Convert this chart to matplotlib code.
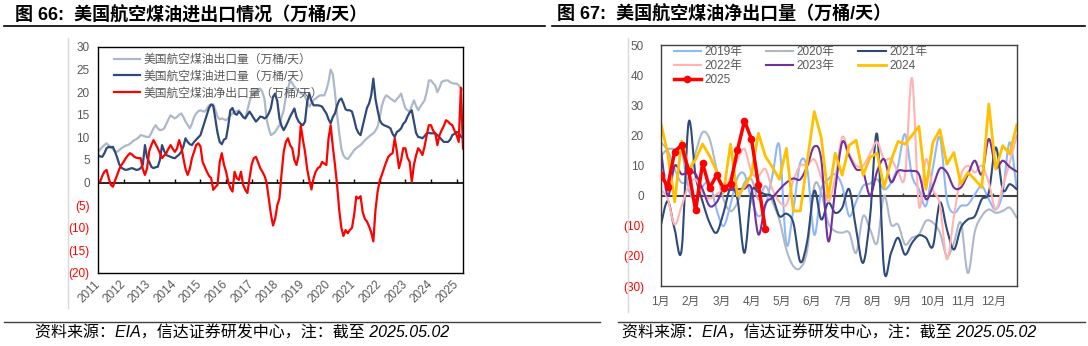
import numpy as np
import matplotlib.pyplot as plt
from matplotlib.path import Path
from matplotlib.patches import PathPatch
from matplotlib.lines import Line2D

plt.rcParams['font.family'] = ['Liberation Sans', 'Noto Sans CJK SC', 'DejaVu Sans']

# ---- left chart: monthly, Jan 2011 .. Apr 2025 (万桶/天)
year_labels = list(range(2011, 2026))

export_kbd = [
    6.8, 7.3, 7.9, 8.3, 8.7, 8.2, 7.9, 7.4, 6.9, 6.8, 7.2, 7.6,
    7.9, 8.2, 8.3, 8.6, 9.0, 9.4, 9.6, 10.0, 10.5, 10.4, 10.2, 10.1,
    10.1, 11.0, 12.0, 12.7, 12.0, 11.6, 11.7, 12.0, 13.0, 14.0, 14.9, 14.5,
    14.2, 14.5, 15.0, 15.3, 14.5, 13.5, 12.8, 12.0, 13.0, 14.5, 15.3, 15.8,
    16.0, 15.8, 15.7, 16.3, 17.1, 17.2, 17.3, 16.0, 14.6, 14.0, 14.2, 14.0,
    13.8, 14.2, 14.8, 15.3, 15.6, 15.8, 16.0, 15.2, 14.5, 14.2, 16.0, 18.0,
    19.3, 19.6, 20.0, 20.5, 20.8, 20.0, 18.5, 14.0, 12.0, 10.5, 10.8, 11.2,
    12.0, 12.7, 14.5, 16.0, 19.0, 20.8, 22.6, 22.0, 21.2, 20.7, 20.2, 19.8,
    19.5, 19.0, 18.0, 16.8, 17.5, 18.3, 18.6, 19.0, 19.3, 19.3, 19.3, 20.5,
    22.3, 25.0, 24.0, 20.0, 15.0, 11.0, 7.5, 6.0, 5.4, 5.2, 5.8, 6.5,
    7.2, 7.6, 8.0, 8.3, 8.8, 9.3, 9.8, 10.2, 10.6, 10.9, 11.5, 12.4,
    14.5, 17.0, 18.5, 19.3, 19.0, 18.6, 18.3, 17.9, 18.5, 19.0, 19.7, 18.0,
    16.4, 16.0, 15.7, 17.0, 18.2, 17.0, 16.0, 16.8, 17.5, 18.2, 20.0, 22.6,
    22.6, 22.0, 21.5, 20.0, 21.0, 22.3, 22.5, 22.6, 22.6, 22.2, 22.0, 21.9,
    21.9, 21.5, 20.8, 20.5,
]
import_kbd = [
    6.1, 5.8, 5.7, 6.5, 7.6, 7.9, 7.8, 7.9, 6.8, 5.5, 4.0, 3.3,
    3.0, 2.8, 2.9, 3.1, 3.2, 3.0, 2.8, 2.9, 3.2, 4.0, 8.3, 5.5,
    4.6, 3.5, 3.2, 3.4, 3.5, 5.0, 8.3, 7.0, 6.1, 5.9, 5.7, 5.5,
    5.4, 5.8, 6.2, 6.8, 8.0, 9.8, 9.0, 8.5, 8.3, 9.0, 9.5, 10.0,
    10.5, 12.0, 13.5, 15.0, 16.5, 17.3, 17.0, 14.0, 11.0, 9.0, 8.5, 9.5,
    9.8, 12.5, 16.0, 16.5, 15.3, 15.0, 15.7, 15.2, 14.5, 14.2, 15.0, 15.7,
    15.0, 14.2, 13.5, 14.0, 14.6, 14.5, 14.2, 14.5, 15.3, 16.5, 19.0, 19.7,
    18.0, 14.2, 12.5, 11.6, 12.5, 13.5, 14.6, 15.5, 16.4, 14.5, 13.5, 13.0,
    12.7, 13.5, 17.9, 19.7, 18.0, 17.1, 17.1, 17.1, 17.0, 16.8, 16.0, 15.3,
    14.0, 13.1, 14.5, 15.3, 17.0, 18.2, 18.6, 17.5, 16.2, 16.0, 16.0, 15.7,
    14.0, 12.0, 11.0, 10.5, 12.5, 14.5, 16.5, 17.5, 19.3, 23.0, 18.5, 16.0,
    13.8, 13.0, 12.7, 12.5, 12.3, 12.0, 10.8, 10.1, 11.2, 11.5, 12.0, 13.0,
    13.5, 14.6, 15.5, 16.0, 13.5, 11.0, 10.1, 10.0, 9.8, 10.3, 10.9, 11.0,
    10.9, 10.9, 10.9, 10.5, 10.0, 9.5, 9.0, 9.0, 9.0, 9.5, 10.5, 10.8,
    11.2, 11.0, 10.2, 9.8,
]
net_kbd = [
    0.0, 0.2, 1.5, 2.4, 2.8, 1.0, -0.5, -0.9, 0.5, 1.7, 3.0, 3.9,
    4.6, 5.4, 6.0, 6.5, 6.2, 5.7, 5.5, 5.4, 5.4, 3.0, 1.7, 3.2,
    7.0, 8.3, 9.4, 8.5, 7.6, 6.5, 5.4, 6.0, 6.5, 7.5, 8.3, 7.5,
    6.8, 7.5, 9.4, 8.0, 5.4, 3.0, 1.7, 3.0, 5.4, 6.8, 8.3, 8.7,
    8.0, 4.6, 3.5, 2.4, 1.5, 1.0, -1.6, -1.0, -0.5, 4.5, 6.5, 4.0,
    2.4, 0.2, -1.2, -2.0, 2.4, 1.0, 0.6, 2.4, -0.5, -1.6, -2.3, 1.0,
    4.0, 5.4, 5.7, 4.5, 3.2, 2.4, 1.5, 0.0, -3.5, -7.0, -9.5, -8.0,
    -5.0, -3.5, 2.0, 6.8, 9.0, 9.8, 8.3, 7.6, 5.0, 3.9, 6.1, 12.7,
    9.5, 6.8, 3.0, 0.5, -1.5, 1.0, 2.4, 3.2, 3.5, 4.6, 4.2, 3.9,
    9.8, 12.7, 8.0, 4.0, -0.5, -6.0, -10.0, -11.8, -10.5, -11.2, -10.5, -10.0,
    -7.1, -3.1, -3.5, -3.0, -6.5, -8.0, -8.6, -9.7, -11.0, -13.0, -6.0, -2.0,
    0.5, 1.7, 3.2, 4.5, 5.7, 6.2, 6.5, 9.8, 7.0, 3.2, 5.0, 7.6,
    7.6, 5.5, 4.6, 0.2, 3.9, 6.0, 7.6, 7.0, 6.1, 8.0, 10.5, 12.7,
    12.7, 11.5, 10.9, 8.3, 10.5, 11.6, 12.5, 13.8, 13.5, 13.0, 12.7, 11.5,
    10.5, 9.0, 21.0, 7.5,
]

# ---- right chart: weekly net exports by year (万桶/天)
month_labels = [f'{m}月' for m in range(1, 13)]
net_2019 = [13.0, 15.4, 15.4, 14.9, 2.1, -1.2, 3.0, 4.3, -4.6, -10.1, -3.0, 6.0, 7.1,
            -1.2, -6.8, -3.4, 6.6, 16.6, -16.0, -4.6, 11.0, 8.8, -13.0, 2.1, 5.4, 7.1,
            3.2, -6.8, -2.0, 3.2, 4.0, 5.4, 2.1, 4.3, 10.0, 20.4, 6.6, 2.1, -3.4, 9.3,
            19.3, -1.2, -5.7, -3.4, -3.0, 0.4, 3.2, -1.2, -4.6, 1.0, 17.7, 2.1]
net_2020 = [17.7, 15.0, 8.8, 4.3, 6.0, 14.3, 21.0, 18.8, 8.8, -1.2, -5.1, -2.3, 4.3,
            5.4, -1.2, 3.2, -2.0, -8.0, -17.9, -23.4, -24.0, -17.9, 3.2, 1.0, -9.0, -11.8,
            -12.3, -12.3, -19.0, -6.8, -11.2, -15.7, -0.1, -9.6, -9.6, -16.2, -14.0, -12.9,
            -8.4, -9.0, -12.3, -20.1, -15.7, -9.0, -25.7, -12.0, -6.8, -4.6, -5.7, -5.1, -4.0, -7.3]
net_2021 = [-10.1, -1.8, -11.2, -17.9, 24.3, 6.6, -2.0, -9.0, -12.3, -5.7, 2.5, -1.2, -19.0,
            1.0, 1.2, 0.4, -0.5, -6.8, -6.0, -9.0, -22.0, -15.0, 1.6, -7.9, -2.3, -5.7,
            -4.0, 2.1, -11.2, -22.3, -6.8, 20.4, -24.6, -19.0, -14.0, -19.6, -15.7, -13.2,
            -14.0, -16.8, -2.3, -11.2, -17.9, -10.7, -7.9, -6.8, -1.2, 1.0, 16.0, 2.0, 3.8, 2.1]
net_2022 = [2.0, -1.0, -9.6, -3.4, 3.2, 5.4, 1.0, -1.0, 0.5, 2.1, 6.0, 12.0, 15.4,
            7.7, 6.6, 8.8, 2.1, -2.0, -3.0, 5.0, 10.0, 10.0, 12.0, 6.0, -2.0, 6.0,
            19.4, 14.0, 10.0, 10.0, 14.0, 17.8, 12.0, 12.2, 8.0, 6.6, 39.0, -3.4, 12.1,
            2.1, -3.0, -21.1, -7.0, 6.6, 9.9, 7.7, 9.9, 4.3, -4.6, 3.2, 11.0, 19.9]
net_2023 = [16.0, 0.0, 9.9, 7.1, 7.9, 7.1, 2.1, -3.4, -2.3, 2.1, 1.9, 2.1, 2.3,
            2.4, -12.9, -2.9, -0.7, 2.0, 4.3, 5.7, 5.4, 9.9, 16.3, 12.0, -15.1, 2.0,
            17.7, 13.2, 8.8, 7.9, 0.0, 8.0, 12.1, 4.5, 8.2, 8.2, 8.2, 7.1, -1.2,
            3.2, 9.0, 7.7, 2.7, 2.7, 7.0, 11.6, 7.1, 18.8, 9.5, 11.6, 9.5, 8.0]
net_2024 = [24.3, 14.0, -2.1, 18.2, 8.5, 12.1, 17.1, 13.2, 8.2, 1.0, 17.1, -0.1, 3.0,
            7.0, 20.7, 13.0, 9.5, 5.4, 15.7, -5.1, -5.1, 11.5, 27.9, 19.3, -0.7, 14.1,
            6.8, 16.7, 18.4, 6.8, 12.7, 14.1, 2.7, 11.6, 18.0, 17.1, 20.0, 23.0, 2.1,
            17.7, 21.9, 10.4, 14.3, 3.8, 7.7, 5.4, 2.7, 30.4, 8.8, 16.6, 13.8, 23.4]
net_2025 = [6.9, 3.0, 14.6, 16.8, 8.2, -4.9, 10.8, 2.4, 6.8, 2.4, 3.8, 15.2, 24.8,
            18.8, 3.6, -11.2]

GRAY = '#595959'
NEG = '#FF0000'
W, H = 1088, 346


def fig_x(px):
    return px / W


def fig_y(py):
    return 1 - py / H


def paren(v):
    return f'({-v:g})' if v < 0 else f'{v:g}'


def smooth_line(ax, xs, ys, **kw):
    # Excel-style smoothed line: cubic bezier through every point
    xs = np.asarray(xs, float)
    ys = np.asarray(ys, float)
    n = len(xs)
    verts = [(xs[0], ys[0])]
    codes = [Path.MOVETO]
    for i in range(n - 1):
        a = max(i - 1, 0)
        d = min(i + 2, n - 1)
        c1 = (xs[i] + (xs[i + 1] - xs[a]) / 6, ys[i] + (ys[i + 1] - ys[a]) / 6)
        c2 = (xs[i + 1] - (xs[d] - xs[i]) / 6, ys[i + 1] - (ys[d] - ys[i]) / 6)
        verts += [c1, c2, (xs[i + 1], ys[i + 1])]
        codes += [Path.CURVE4] * 3
    ax.add_patch(PathPatch(Path(verts, codes), fill=False, capstyle='round',
                           joinstyle='round', **kw))


fig = plt.figure(figsize=(W / 100, H / 100), dpi=100)

# ================= left chart =================
ax1 = fig.add_axes([fig_x(98), fig_y(273), 365 / W, 226 / H])
m = np.arange(len(export_kbd))
ax1.plot(m, export_kbd, color='#ADB9CA', lw=1.6, label='美国航空煤油出口量（万桶/天）')
ax1.plot(m, import_kbd, color='#2F4A7A', lw=1.6, label='美国航空煤油进口量（万桶/天）')
ax1.plot(m, net_kbd, color='#FF0000', lw=1.6, label='美国航空煤油净出口量（万桶/天）')
ax1.set_xlim(0, len(m) - 1)
ax1.set_ylim(-20, 30)
yt1 = np.arange(-20, 31, 5)
ax1.set_yticks(yt1)
ax1.set_yticklabels([paren(v) for v in yt1])
for lab, v in zip(ax1.get_yticklabels(), yt1):
    lab.set_color(NEG if v < 0 else GRAY)
xt1 = [(y - year_labels[0]) * 12 for y in year_labels]
ax1.set_xticks(xt1)
ax1.set_xticklabels(year_labels, rotation=45, ha='right', va='center',
                    rotation_mode='anchor', color=GRAY)
ax1.tick_params(length=0, labelsize=8.5)
ax1.tick_params(axis='x', pad=7)
ax1.tick_params(axis='y', pad=6)
ax1.axhline(0, color='black', lw=1.2, zorder=1.5)
ax1.vlines(xt1, 0, 0.7, color='black', lw=1, zorder=1.5)
for s in ax1.spines.values():
    s.set_color('black')
    s.set_linewidth(1.0)
ax1.legend(loc='upper left', bbox_to_anchor=(0.045, 0.97), frameon=False,
           fontsize=8.5, handlelength=2.2, handletextpad=0.3, labelspacing=0.4,
           borderaxespad=0, borderpad=0, labelcolor=GRAY)

# ================= right chart =================
ax2 = fig.add_axes([fig_x(660.7), fig_y(286), 356 / W, 241 / H])
wk = np.arange(52)
smooth_line(ax2, wk, net_2019, color='#8FB8F5', lw=1.5, zorder=2)
smooth_line(ax2, wk, net_2020, color='#ADB9CA', lw=1.5, zorder=2.1)
smooth_line(ax2, wk, net_2021, color='#2F4A7A', lw=1.5, zorder=2.2)
smooth_line(ax2, wk, net_2022, color='#FFB3B3', lw=1.5, zorder=2.3)
smooth_line(ax2, wk, net_2023, color='#7030A0', lw=1.5, zorder=2.4)
ax2.plot(wk, net_2024, color='#FFC000', lw=2.0, zorder=2.5)
ax2.plot(wk[:len(net_2025)], net_2025, color='#FF0000', lw=2.5, marker='o',
         ms=4.5, zorder=2.6)
ax2.set_xlim(0, 51)
ax2.set_ylim(-30, 50)
yt2 = np.arange(-30, 51, 10)
ax2.set_yticks(yt2)
ax2.set_yticklabels([paren(v) for v in yt2])
for lab, v in zip(ax2.get_yticklabels(), yt2):
    lab.set_color(NEG if v < 0 else GRAY)
xt2 = [i * 52 / 12 for i in range(12)]
ax2.set_xticks(xt2)
ax2.set_xticklabels(month_labels, color=GRAY)
ax2.tick_params(length=0, labelsize=8.5)
ax2.tick_params(axis='x', pad=7)
ax2.tick_params(axis='y', pad=12)
ax2.axhline(0, color='#404040', lw=1.5, zorder=1.5)
ax2.vlines(xt2, 0, 1.0, color='#404040', lw=1, zorder=1.5)
for s in ax2.spines.values():
    s.set_color('#404040')
    s.set_linewidth(1.0)

styles = {
    '2019年': dict(color='#8FB8F5', lw=1.5),
    '2020年': dict(color='#ADB9CA', lw=1.5),
    '2021年': dict(color='#2F4A7A', lw=1.5),
    '2022年': dict(color='#FFB3B3', lw=1.5),
    '2023年': dict(color='#7030A0', lw=1.5),
    '2024': dict(color='#FFC000', lw=2.0),
    '2025': dict(color='#FF0000', lw=2.5, marker='o', ms=4.5),
}
order = ['2019年', '2022年', '2025', '2020年', '2023年', '2021年', '2024']
handles = [Line2D([], [], **styles[k]) for k in order]
ax2.legend(handles, order, loc='upper left', bbox_to_anchor=(0.037, 0.995), ncol=3,
           frameon=False, fontsize=8.5, handlelength=2.3, handletextpad=0.3,
           columnspacing=2.0, labelspacing=0.15, borderaxespad=0, borderpad=0,
           labelcolor=GRAY)

# ================= titles, frames, footers =================
fig.text(fig_x(15), fig_y(15), '图 66:  美国航空煤油进出口情况（万桶/天）',
         fontsize=13, fontweight='bold', va='center', ha='left')
fig.text(fig_x(557), fig_y(15), '图 67:  美国航空煤油净出口量（万桶/天）',
         fontsize=13, fontweight='bold', va='center', ha='left')
for x0, x1 in [(4, 545), (552, 1085)]:
    fig.add_artist(Line2D([fig_x(x0), fig_x(x1)], [fig_y(26), fig_y(26)],
                          color='black', lw=1.2, transform=fig.transFigure))
for x0, x1 in [(4, 600), (618, 1085)]:
    fig.add_artist(Line2D([fig_x(x0), fig_x(x1)], [fig_y(322), fig_y(322)],
                          color='#404040', lw=1.0, transform=fig.transFigure))
for xg, y1 in [(67.5, 308), (628, 312)]:
    fig.add_artist(Line2D([fig_x(xg), fig_x(xg)], [fig_y(38), fig_y(y1)],
                          color='#D9D9D9', lw=1.0, transform=fig.transFigure))
note = '资料来源：EIA，信达证券研发中心，注：截至 2025.05.02'
fig.text(fig_x(35), fig_y(333), note, fontsize=11.5, style='italic',
         va='center', ha='left')
fig.text(fig_x(622), fig_y(333), note, fontsize=11.5, style='italic',
         va='center', ha='left')

fig.savefig('out.png', dpi=100)
